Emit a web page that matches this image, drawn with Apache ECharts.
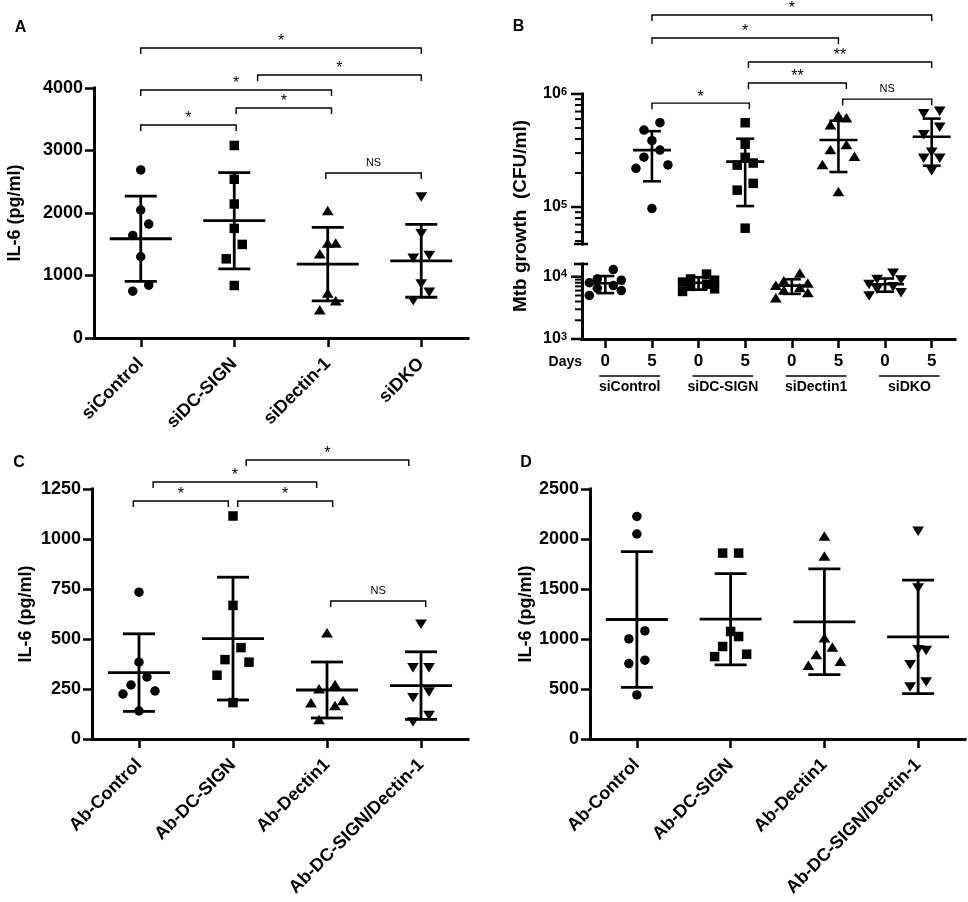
<!DOCTYPE html>
<html><head><meta charset="utf-8">
<script src="https://cdn.jsdelivr.net/npm/echarts@6/dist/echarts.min.js"></script>
<style>html,body{margin:0;padding:0;background:#fff}#c{width:968px;height:902px}</style>
</head><body><div id="c"></div>
<script>
const FONT = '"Liberation Sans", Arial, Helvetica, sans-serif';

// ---------- Panel A ----------
const aCategories = ['siControl', 'siDC-SIGN', 'siDectin-1', 'siDKO'];
const aValues = [
  [2690, 2048, 1823, 1642, 1300, 845, 749],
  [3080, 2540, 2144, 1754, 1497, 1267, 840],
  [2032, 1513, 1513, 1342, 711, 588, 444],
  [2262, 1674, 1326, 1283, 872, 738, 604]
];
const aMean = [1588, 1877, 1182, 1235];
const aSD = [682, 770, 588, 583];
const aTicks = [0, 1000, 2000, 3000, 4000];
const aBrackets = [[0, 3, 4640, '*'], [1.25, 3, 4208, '*'], [0, 2.04, 3968, '*'], [1.02, 2.04, 3680, '*'], [0, 1.02, 3408, '*'], [1.98, 3, 2640, 'NS']];

// ---------- Panel B ----------
const bDays = ['0', '5', '0', '5', '0', '5', '0', '5'];
const bDaysLabel = 'Days';
const bGroups = ['siControl', 'siDC-SIGN', 'siDectin1', 'siDKO'];
const bValues = [
  [13000, 9200, 8800, 8000, 7200, 6500, 6000, 5000],
  [557000, 480000, 386000, 319000, 276000, 236000, 220000, 97000],
  [11000, 9200, 8800, 8200, 7600, 7000, 6400, 5800],
  [557000, 359000, 275000, 245000, 235000, 162000, 141000, 65000],
  [11300, 8500, 7800, 7200, 6600, 6000, 5500, 4500],
  [640000, 610000, 530000, 354000, 319000, 279000, 236000, 136000],
  [11600, 9200, 9000, 7600, 7000, 6400, 5600, 5000],
  [710000, 675000, 514000, 440000, 308000, 273000, 273000, 212000]
];
const bMean = [7850, 319000, 8000, 252000, 7200, 392000, 7550, 419000];
const bSD = [2400, 150000, 1800, 150000, 1900, 188000, 1800, 187000];
const bUpperRange = [47100, 1000000];
const bLowerRange = [1000, 16000];
const bUpperMajor = [100000, 1000000];
const bUpperMinor = [50000, 60000, 70000, 80000, 90000, 200000, 300000, 400000, 500000, 600000, 700000, 800000, 900000];
const bLowerMajor = [1000, 10000];
const bLowerMinor = [2000, 3000, 4000, 5000, 6000, 7000, 8000, 9000];
const bYTitle = 'Mtb growth  (CFU/ml)';
const bBrackets = [[1, 7, 5.0e6, '*'], [1, 5, 3.13e6, '*'], [3.07, 7, 1.92e6, '**'], [3.07, 5.17, 1.25e6, '**'], [1, 3.09, 8.3e5, '*'], [5.09, 7, 9.0e5, 'NS']];

// ---------- Panel C ----------
const cCategories = ['Ab-Control', 'Ab-DC-SIGN', 'Ab-Dectin1', 'Ab-DC-SIGN/Dectin-1'];
const cValues = [
  [734, 384, 310, 270, 240, 225, 140],
  [1115, 668, 457, 397, 384, 319, 182],
  [529, 270, 249, 190, 179, 165, 95],
  [576, 359, 359, 237, 209, 120, 87]
];
const cMean = [332, 502, 245, 267];
const cSD = [194, 307, 140, 169];
const cTicks = [0, 250, 500, 750, 1000, 1250];
const cBrackets = [[1.14, 2.87, 1395, '*'], [0.15, 1.89, 1285, '*'], [-0.06, 0.95, 1190, '*'], [1.05, 2.06, 1190, '*'], [2.04, 3.05, 690, 'NS']];

// ---------- Panel D ----------
const dCategories = ['Ab-Control', 'Ab-DC-SIGN', 'Ab-Dectin1', 'Ab-DC-SIGN/Dectin-1'];
const dValues = [
  [2226, 2050, 1081, 1001, 788, 754, 441],
  [1859, 1859, 1075, 1025, 925, 848, 824],
  [2026, 1826, 1008, 915, 841, 774, 734],
  [2083, 1515, 898, 891, 748, 574, 524]
];
const dMean = [1195, 1198, 1172, 1021];
const dSD = [678, 456, 529, 568];
const dTicks = [0, 500, 1000, 1500, 2000, 2500];

const yTitle = 'IL-6 (pg/ml)';
const panelLetters = ['A', 'B', 'C', 'D'];

// ---------- helpers ----------
function font(size, bold) { return (bold ? 'bold ' : '') + size + 'px ' + FONT; }
function textEl(text, x, y, f, align, valign, extra) {
  return Object.assign({
    type: 'text',
    style: { text: text, x: x, y: y, font: f, fill: '#000',
      align: align, textAlign: align, verticalAlign: valign, textVerticalAlign: valign }
  }, extra || {});
}
// Prism-like horizontal spreading of points that crowd together vertically
function jitterOffsets(pys, T) {
  const idx = pys.map((p, i) => i).sort((a, b) => pys[a] - pys[b]);
  const off = new Array(pys.length).fill(0);
  let s = 0;
  while (s < idx.length) {
    let e = s;
    while (e + 1 < idx.length && pys[idx[e + 1]] - pys[idx[e]] < T) e++;
    const n = e - s + 1;
    const pat = n % 2 ? [0, 1, -1, 2, -2] : [1, -1, 2, -2];
    for (let k = 0; k < n; k++) off[idx[s + k]] = pat[k % pat.length];
    s = e + 1;
  }
  return off;
}
function marker(kind, x, y, s) {
  const st = { fill: '#000', stroke: null };
  if (kind === 0) return { type: 'circle', shape: { cx: x, cy: y, r: s / 2 }, style: st };
  if (kind === 1) return { type: 'rect', shape: { x: x - s / 2, y: y - s / 2, width: s, height: s }, style: st };
  const w = s * 0.62, h = s * 0.5;
  if (kind === 2) return { type: 'polygon', shape: { points: [[x, y - h * 1.1], [x - w, y + h * 0.9], [x + w, y + h * 0.9]] }, style: st };
  return { type: 'polygon', shape: { points: [[x, y + h * 1.1], [x - w, y - h * 0.9], [x + w, y - h * 0.9]] }, style: st };
}
function pointSeries(ax, values, cols, shapeOf, size, T, W) {
  const data = [];
  cols.forEach(c => values[c].forEach((v, j) => data.push([c, v, j])));
  return {
    type: 'custom', xAxisIndex: ax, yAxisIndex: ax, clip: false, silent: true, z: 2,
    encode: { x: 0, y: 1 }, data: data,
    renderItem: function (params, api) {
      const c = api.value(0), v = api.value(1), j = api.value(2);
      const pys = values[c].map(u => api.coord([c, u])[1]);
      const off = jitterOffsets(pys, T);
      const p = api.coord([c, v]);
      return marker(shapeOf(c), p[0] + off[j] * W, p[1], size);
    }
  };
}
function errorSeries(ax, means, sds, cols, mh, ch, lw) {
  return {
    type: 'custom', xAxisIndex: ax, yAxisIndex: ax, clip: false, silent: true, z: 3,
    encode: { x: 0, y: 1 }, data: cols.map(c => [c, means[c], sds[c]]),
    renderItem: function (params, api) {
      const c = api.value(0), m = api.value(1), sd = api.value(2);
      const pm = api.coord([c, m]), pt = api.coord([c, m + sd]), pb = api.coord([c, m - sd]);
      const st = { stroke: '#000', lineWidth: lw };
      return { type: 'group', children: [
        { type: 'line', shape: { x1: pm[0] - mh, y1: pm[1], x2: pm[0] + mh, y2: pm[1] }, style: st },
        { type: 'line', shape: { x1: pm[0] - ch, y1: pt[1], x2: pm[0] + ch, y2: pt[1] }, style: st },
        { type: 'line', shape: { x1: pm[0] - ch, y1: pb[1], x2: pm[0] + ch, y2: pb[1] }, style: st },
        { type: 'line', shape: { x1: pm[0], y1: pt[1], x2: pm[0], y2: pb[1] }, style: st }
      ] };
    }
  };
}
function bracketSeries(ax, brackets) {
  return {
    type: 'custom', xAxisIndex: ax, yAxisIndex: ax, clip: false, silent: true, z: 3,
    encode: { x: 0, y: 1 }, data: brackets.map((b, i) => [0, b[2], i]),
    renderItem: function (params, api) {
      const b = brackets[api.value(2)];
      const p0 = api.coord([0, b[2]]), p1 = api.coord([1, b[2]]);
      const step = p1[0] - p0[0];
      const x1 = p0[0] + b[0] * step, x2 = p0[0] + b[1] * step, y = p0[1];
      const ns = b[3] === 'NS';
      return { type: 'group', children: [
        { type: 'polyline', shape: { points: [[x1, y + 6], [x1, y], [x2, y], [x2, y + 6]] }, style: { stroke: '#000', lineWidth: 1.4, fill: 'none' } },
        textEl(b[3], (x1 + x2) / 2, ns ? y - 10 : y - 6, font(ns ? 11 : 16, false), 'center', 'middle')
      ] };
    }
  };
}
function logTickSeries(ax, majors, minors, caps) {
  const data = [].concat(majors.map(v => [0, v, 0]), minors.map(v => [0, v, 1]), caps.map(v => [0, v, 2]));
  return {
    type: 'custom', xAxisIndex: ax, yAxisIndex: ax, clip: false, silent: true, z: 3,
    encode: { x: 0, y: 1 }, data: data,
    renderItem: function (params, api) {
      const v = api.value(1), k = api.value(2);
      const y = api.coord([0, v])[1];
      const x0 = params.coordSys.x;
      let xa = x0 - (k === 0 ? 11 : 7), xb = x0;
      if (k === 2) { xa = x0 - 8; xb = x0 + 6; }
      return { type: 'line', shape: { x1: xa, y1: y, x2: xb, y2: y }, style: { stroke: '#000', lineWidth: k === 1 ? 2 : 2.5 } };
    }
  };
}
function groupLabelSeries() {
  return {
    type: 'custom', xAxisIndex: 2, yAxisIndex: 2, clip: false, silent: true, z: 3,
    encode: { x: 0, y: 1 }, data: bGroups.map((g, i) => [2 * i, bLowerRange[0], i]),
    renderItem: function (params, api) {
      const i = api.value(2);
      const p0 = api.coord([2 * i, bLowerRange[0]]), p1 = api.coord([2 * i + 1, bLowerRange[0]]);
      const y = p0[1];
      const ch = [
        { type: 'line', shape: { x1: p0[0] - 6, y1: y + 37, x2: p1[0] + 8, y2: y + 37 }, style: { stroke: '#000', lineWidth: 1.4 } },
        textEl(bGroups[i], (p0[0] + p1[0]) / 2 + 1, y + 48, font(14, true), 'center', 'middle')
      ];
      if (i === 0) ch.push(textEl(bDaysLabel, params.coordSys.x, y + 23, font(14, true), 'right', 'middle'));
      return { type: 'group', children: ch };
    }
  };
}
function axisLine() { return { show: true, lineStyle: { color: '#000', width: 3, cap: 'square' } }; }
function valueAxis(grid, ticks, nameGap) {
  return {
    type: 'value', gridIndex: grid, min: ticks[0], max: ticks[ticks.length - 1], interval: ticks[1] - ticks[0],
    name: yTitle, nameLocation: 'middle', nameGap: nameGap,
    nameTextStyle: { fontSize: 18, fontWeight: 'bold', fontFamily: FONT, color: '#000' },
    axisLine: axisLine(),
    axisTick: { show: true, length: 9, lineStyle: { color: '#000', width: 2.5 } },
    axisLabel: { fontSize: 18, fontWeight: 'bold', fontFamily: FONT, color: '#000', margin: 11, formatter: v => String(v) },
    splitLine: { show: false }
  };
}
function catAxis(grid, data) {
  return {
    type: 'category', gridIndex: grid, data: data, boundaryGap: true,
    axisLine: axisLine(),
    axisTick: { show: true, alignWithLabel: true, interval: 0, length: 9, lineStyle: { color: '#000', width: 2.5 } },
    axisLabel: { interval: 0, rotate: 45, fontSize: 18, fontWeight: 'bold', fontFamily: FONT, color: '#000', margin: 23 },
    splitLine: { show: false }
  };
}
function logAxis(grid, range) {
  return {
    type: 'log', logBase: 10, gridIndex: grid, min: range[0], max: range[1],
    axisLine: axisLine(), axisTick: { show: false }, splitLine: { show: false }, minorTick: { show: false },
    axisLabel: {
      margin: 15, color: '#000',
      formatter: function (v) { const e = Math.log10(v), r = Math.round(e); return Math.abs(e - r) < 1e-6 ? '{b|10}{s|' + r + '}' : ''; },
      rich: {
        b: { fontSize: 16, fontWeight: 'bold', fontFamily: FONT, color: '#000' },
        s: { fontSize: 11, fontWeight: 'bold', fontFamily: FONT, color: '#000', verticalAlign: 'top' }
      }
    }
  };
}

const shapeBy4 = c => c;
const shapeBy8 = c => Math.floor(c / 2);

const gridBase = { containLabel: false, outerBoundsMode: 'none' };
const option = {
  animation: false,
  backgroundColor: '#fff',
  grid: [
    Object.assign({ left: 94, top: 88, width: 374, height: 250 }, gridBase),
    Object.assign({ left: 582, top: 94, width: 373, height: 150 }, gridBase),
    Object.assign({ left: 582, top: 264, width: 373, height: 75 }, gridBase),
    Object.assign({ left: 92, top: 489, width: 376, height: 250 }, gridBase),
    Object.assign({ left: 590, top: 489, width: 375, height: 250 }, gridBase)
  ],
  xAxis: [
    catAxis(0, aCategories),
    Object.assign(catAxis(1, bDays), { show: false }),
    Object.assign(catAxis(2, bDays), {
      axisLabel: { interval: 0, rotate: 0, fontSize: 17, fontWeight: 'bold', fontFamily: FONT, color: '#000', margin: 14 }
    }),
    catAxis(3, cCategories),
    catAxis(4, dCategories)
  ],
  yAxis: [
    valueAxis(0, aTicks, 70),
    logAxis(1, bUpperRange),
    logAxis(2, bLowerRange),
    valueAxis(3, cTicks, 57),
    valueAxis(4, dTicks, 55)
  ],
  series: [
    pointSeries(0, aValues, [0, 1, 2, 3], shapeBy4, 9.5, 15, 8),
    errorSeries(0, aMean, aSD, [0, 1, 2, 3], 31, 16, 2.8),
    bracketSeries(0, aBrackets),

    pointSeries(1, bValues, [1, 3, 5, 7], shapeBy8, 9.5, 10, 8),
    errorSeries(1, bMean, bSD, [1, 3, 5, 7], 19, 9, 2.6),
    bracketSeries(1, bBrackets),
    logTickSeries(1, bUpperMajor, bUpperMinor, [bUpperRange[0]]),

    pointSeries(2, bValues, [0, 2, 4, 6], shapeBy8, 9.5, 10, 8),
    errorSeries(2, bMean, bSD, [0, 2, 4, 6], 19, 9, 2.6),
    logTickSeries(2, bLowerMajor, bLowerMinor, [bLowerRange[1]]),
    groupLabelSeries(),

    pointSeries(3, cValues, [0, 1, 2, 3], shapeBy4, 9.5, 15, 8),
    errorSeries(3, cMean, cSD, [0, 1, 2, 3], 31, 16, 2.8),
    bracketSeries(3, cBrackets),

    pointSeries(4, dValues, [0, 1, 2, 3], shapeBy4, 9.5, 15, 8),
    errorSeries(4, dMean, dSD, [0, 1, 2, 3], 31, 16, 2.8)
  ],
  graphic: [
    textEl(panelLetters[0], 20.5, 27.5, font(16, true), 'center', 'middle'),
    textEl(panelLetters[1], 518.5, 26.7, font(16, true), 'center', 'middle'),
    textEl(panelLetters[2], 19, 462.5, font(16, true), 'center', 'middle'),
    textEl(panelLetters[3], 526, 462.5, font(16, true), 'center', 'middle'),
    { type: 'text', x: 521, y: 216, rotation: Math.PI / 2,
      style: { text: bYTitle, font: font(19, true), fill: '#000', align: 'center', textAlign: 'center', verticalAlign: 'middle', textVerticalAlign: 'middle' } }
  ]
};

const chart = echarts.init(document.getElementById('c'), null, { renderer: 'canvas', width: 968, height: 902 });
chart.setOption(option);
</script>
</body></html>
